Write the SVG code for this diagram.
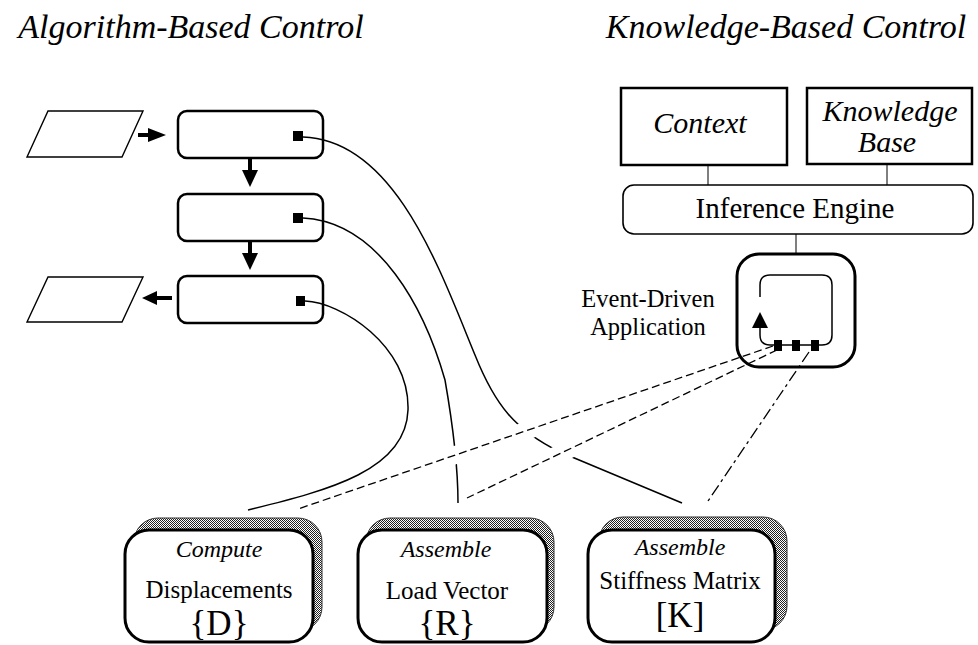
<svg xmlns="http://www.w3.org/2000/svg" width="978" height="645" viewBox="0 0 978 645">
<style>
text{fill:#000;text-anchor:middle}
.thin{fill:none;stroke:#000;stroke-width:1.4}
.box{fill:#fff;stroke:#000;stroke-width:2.5}
.front{fill:#fff;stroke:#000;stroke-width:3}
.shadow{fill:url(#stip);stroke:#333;stroke-width:1}
.dash{fill:none;stroke:#000;stroke-width:1.3;stroke-dasharray:8 4}
.dashdot{fill:none;stroke:#000;stroke-width:1.3;stroke-dasharray:12 4 3 4}
.solid{fill:none;stroke:#000;stroke-width:1.5}
.sq{fill:#000}
</style>
<defs>
<pattern id="stip" width="2" height="2" patternUnits="userSpaceOnUse">
<rect width="2" height="2" fill="#fff"/>
<rect x="0" y="0" width="1" height="1" fill="#222"/>
<rect x="1" y="1" width="1" height="1" fill="#222"/>
</pattern>
<mask id="gaps" maskUnits="userSpaceOnUse" x="0" y="0" width="978" height="645">
<rect width="978" height="645" fill="#fff"/>
<path d="M773,346 L298,509" stroke="#000" stroke-width="18"/>
<path d="M777,350 L467,498" stroke="#000" stroke-width="18"/>
</mask>
</defs>
<rect width="978" height="645" fill="#fff"/>

<g id="titles">
<text x="191" y="38" font-size="34" font-family="Liberation Serif, serif" font-style="italic">Algorithm-Based Control</text>
<text x="786" y="38" font-size="34" font-family="Liberation Serif, serif" font-style="italic">Knowledge-Based Control</text>
</g>

<g id="input">
<polygon class="thin" points="48,111 143,111 122,157 27,157"/>
</g>
<g id="output">
<polygon class="thin" points="48,277 143,277 122,322 27,322"/>
</g>
<g id="step1">
<rect class="box" x="178" y="111" width="145" height="47" rx="9"/>
<rect class="sq" x="293" y="131" width="10" height="10"/>
</g>
<g id="step2">
<rect class="box" x="178" y="194" width="145" height="47" rx="9"/>
<rect class="sq" x="293" y="213" width="10" height="10"/>
</g>
<g id="step3">
<rect class="box" x="178" y="276" width="145" height="47" rx="9"/>
<rect class="sq" x="296" y="296" width="9" height="10"/>
</g>

<g id="context">
<rect class="box" x="621" y="88" width="166" height="77"/>
<text x="700" y="133" font-size="30" font-family="Liberation Serif, serif" font-style="italic">Context</text>
</g>
<g id="knowledge-base">
<rect class="box" x="807" y="88" width="165" height="76"/>
<text x="890" y="121" font-size="30" font-family="Liberation Serif, serif" font-style="italic">Knowledge</text>
<text x="887" y="152" font-size="30" font-family="Liberation Serif, serif" font-style="italic">Base</text>
</g>
<g id="inference-engine">
<rect x="623" y="185" width="350" height="49" rx="11" fill="#fff" stroke="#000" stroke-width="1.6"/>
<text x="795" y="218" font-size="29" font-family="Liberation Serif, serif">Inference Engine</text>
</g>
<g id="event-driven-application">
<rect x="737" y="254" width="118" height="113" rx="22" fill="#fff" stroke="#000" stroke-width="3"/>
<path class="solid" d="M760,297 V285 Q760,275 770,275 H822 Q832,275 832,285 V335 Q832,345 822,345 H770 Q760,345 760,335 V326"/>
<polygon points="760,312 752,328 768,328" fill="#000"/>
<rect class="sq" x="774" y="340" width="8" height="11"/>
<rect class="sq" x="792" y="340" width="8" height="11"/>
<rect class="sq" x="811" y="340" width="8" height="11"/>
<text x="648" y="307" font-size="24.5" font-family="Liberation Serif, serif">Event-Driven</text>
<text x="648" y="335" font-size="24.5" font-family="Liberation Serif, serif">Application</text>
</g>

<g id="compute-displacements">
<rect class="shadow" x="134" y="518" width="188" height="113" rx="24"/>
<rect class="front" x="125" y="530" width="188" height="112" rx="24"/>
<text x="219" y="557" font-size="24" font-family="Liberation Serif, serif" font-style="italic">Compute</text>
<text x="219" y="598" font-size="25" font-family="Liberation Serif, serif">Displacements</text>
<text x="219" y="635" font-size="35" font-family="Liberation Serif, serif">{D}</text>
</g>
<g id="assemble-load-vector">
<rect class="shadow" x="366" y="518" width="188" height="113" rx="24"/>
<rect class="front" x="358" y="530" width="189" height="112" rx="24"/>
<text x="446" y="557" font-size="24" font-family="Liberation Serif, serif" font-style="italic">Assemble</text>
<text x="447" y="599" font-size="25" font-family="Liberation Serif, serif">Load Vector</text>
<text x="447" y="635" font-size="35" font-family="Liberation Serif, serif">{R}</text>
</g>
<g id="assemble-stiffness-matrix">
<rect class="shadow" x="599" y="517" width="188" height="113" rx="24"/>
<rect class="front" x="588" y="530" width="187" height="112" rx="24"/>
<text x="680" y="555" font-size="24" font-family="Liberation Serif, serif" font-style="italic">Assemble</text>
<text x="680" y="589" font-size="25" font-family="Liberation Serif, serif">Stiffness Matrix</text>
<text x="680" y="627" font-size="35" font-family="Liberation Serif, serif">[K]</text>
</g>

<g id="connectors">
<line x1="138" y1="135" x2="150" y2="135" stroke="#000" stroke-width="4"/>
<polygon points="148,128 166,135 148,142" fill="#000"/>
<line x1="250" y1="158" x2="250" y2="172" stroke="#000" stroke-width="4"/>
<polygon points="242,170 258,170 250,187" fill="#000"/>
<line x1="250" y1="241" x2="250" y2="255" stroke="#000" stroke-width="4"/>
<polygon points="242,253 258,253 250,270" fill="#000"/>
<line x1="172" y1="298" x2="155" y2="298" stroke="#000" stroke-width="4"/>
<polygon points="157,291 142,298 157,305" fill="#000"/>
<line x1="708" y1="165" x2="708" y2="185" stroke="#000" stroke-width="1"/>
<line x1="887" y1="164" x2="887" y2="185" stroke="#000" stroke-width="1"/>
<line x1="796" y1="234" x2="796" y2="254" stroke="#000" stroke-width="1"/>
<g mask="url(#gaps)">
<path class="solid" d="M303,137 C395,140 440,270 475,355 C495,405 515,430 560,452 L682,503"/>
<path class="solid" d="M303,218 C380,222 425,310 445,380 C452,420 458,460 458,503"/>
</g>
<path class="solid" d="M305,301 C340,302 410,345 408,410 C406,470 330,490 248,510"/>
<path class="dash" d="M773,346 L298,509"/>
<path class="dash" d="M777,350 L467,498"/>
<path class="dashdot" d="M809,352 L708,501"/>
</g>
</svg>
